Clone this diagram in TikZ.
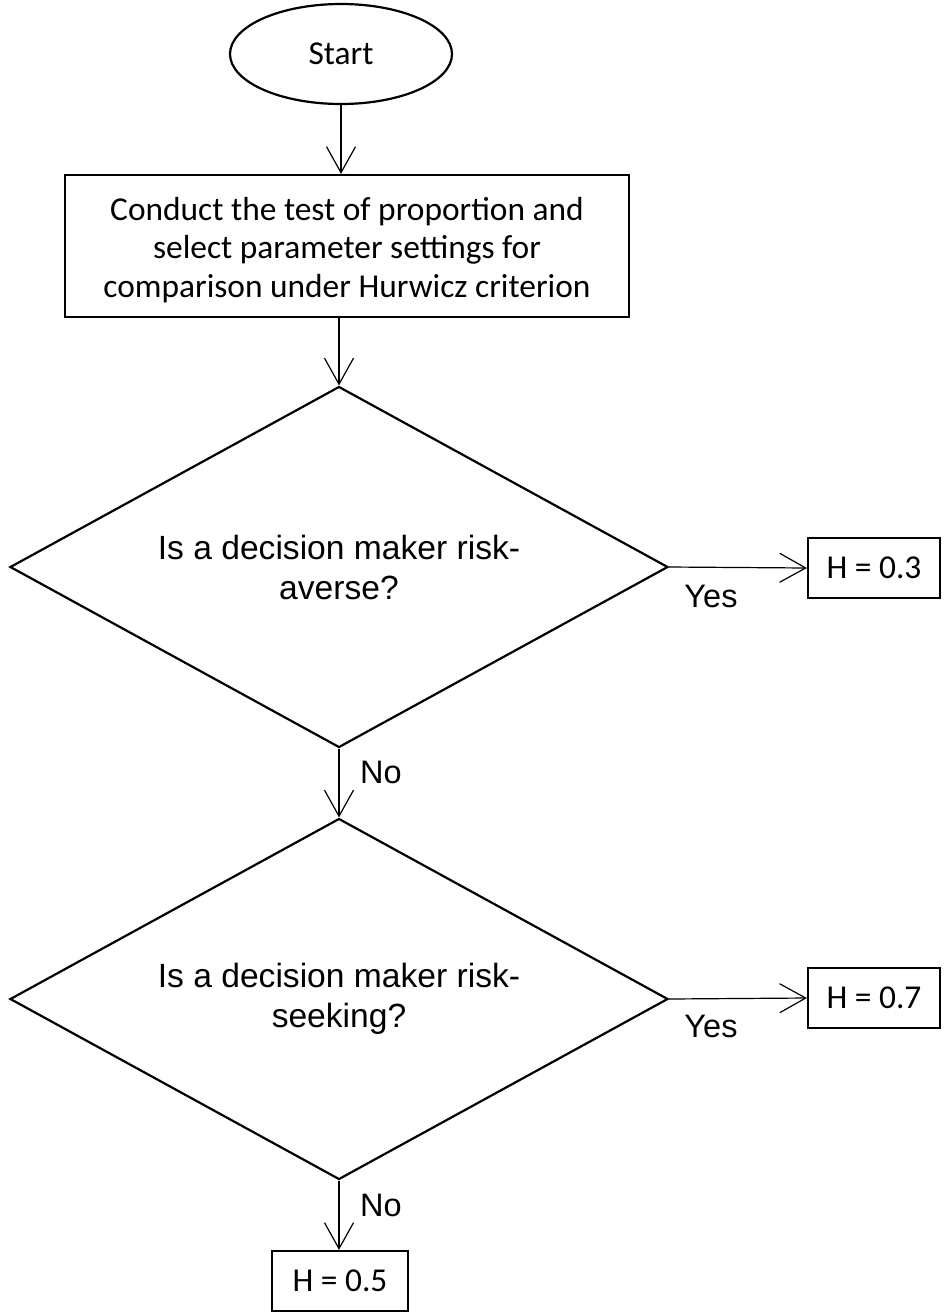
\documentclass[tikz,border=0pt]{standalone}
\usepackage{fontspec}
\usetikzlibrary{shapes.geometric,arrows.meta}
\newfontfamily\calibrifont{Carlito}
\newfontfamily\arialfont{Liberation Sans}
\begin{document}
\begin{tikzpicture}[x=1pt,y=-1pt,
  shapeline/.style={draw=black,line width=2.2pt},
  caltext/.style={inner sep=0pt,align=center,
    font=\calibrifont\fontsize{33.4}{38.5}\selectfont},
  calbox/.style={shapeline,rectangle,caltext},
  decision/.style={shapeline,diamond,inner sep=0pt,align=center,
    aspect=1.823,minimum width=658pt,minimum height=361pt,
    font=\arialfont\fontsize{33.6}{40}\selectfont},
  arr/.style={line width=1.2pt,-{Straight Barb[length=26pt,width=29pt,line width=1.2pt]}},
  lbl/.style={font=\arialfont\fontsize{32.5}{38}\selectfont,inner sep=0pt}]
\useasboundingbox (0,0) rectangle (943,1312);

% start terminal
\node[shapeline,ellipse,minimum width=222pt,minimum height=100pt,inner sep=0pt,
  font=\calibrifont\fontsize{33.4}{38}\selectfont] (start) at (341,54) {\raisebox{-2pt}{Start}};

% process box, its text set a little below the box centre
\node[calbox,minimum width=564pt,minimum height=142pt] (proc) at (347,246) {};
\node[caltext] (proctext) at (347,250)
  {Conduct the test of proportion and\\select parameter settings for\\comparison under Hurwicz criterion};

% decisions
\node[decision] (q1) at (339,567) {Is a decision maker risk-\\averse?};
\node[decision] (q2) at (339,999) {Is a decision maker risk-\\seeking?};

% outcomes
\node[calbox,minimum width=132pt,minimum height=60pt] (h3) at (874,568) {H = 0.3};
\node[calbox,minimum width=132pt,minimum height=60pt] (h7) at (874,998) {H = 0.7};
\node[calbox,minimum width=136pt,minimum height=60pt] (h5) at (340,1281) {H = 0.5};

% connectors
\draw[arr] (start.south) -- (proc.north -| start.south);
\draw[arr] (proc.south -| q1.north) -- (q1.north);
\draw[arr] (q1.east) -- (h3.west);
\draw[arr] (q1.south) -- (q2.north);
\draw[arr] (q2.east) -- (h7.west);
\draw[arr] (q2.south) -- (h5.north -| q2.south);

% branch labels
\node[lbl] (yes1) at (711,596) {Yes};
\node[lbl] (no1) at (381,772) {No};
\node[lbl] (yes2) at (711,1026) {Yes};
\node[lbl] (no2) at (381,1205) {No};
\end{tikzpicture}
\end{document}
